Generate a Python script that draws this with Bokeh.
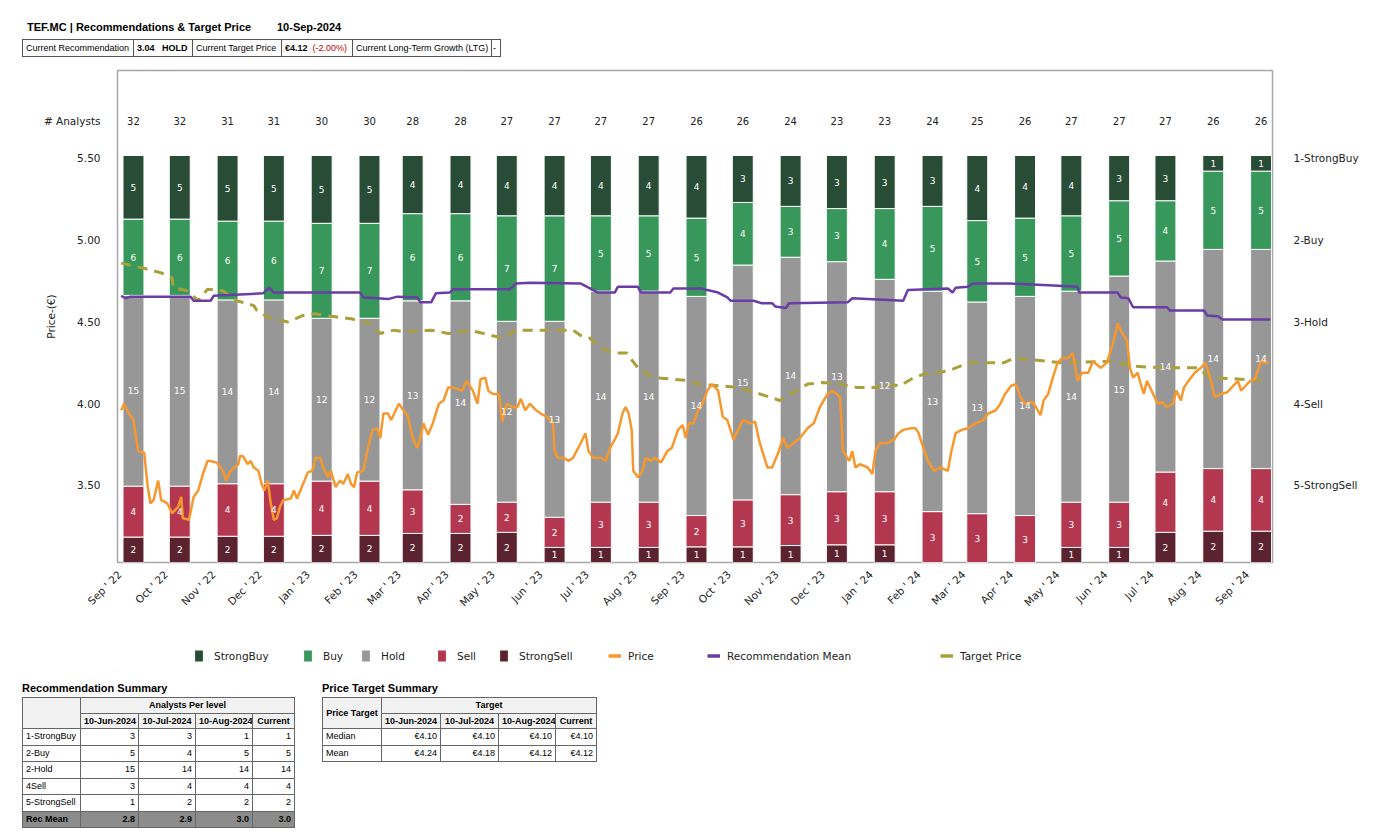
import math
import pandas as pd
from bokeh.plotting import figure
from bokeh.models import (ColumnDataSource, Range1d, LinearAxis, FixedTicker, NumeralTickFormatter,
                          DatetimeTickFormatter, Legend, LegendItem, Div)
from bokeh.layouts import column
from bokeh.core.properties import value
from bokeh.embed import file_html
from bokeh.resources import INLINE

# ------------------------------------------------------------------ data
ticker_name = "TEF.MC"
report_date = "10-Sep-2024"

bar_dates = ["2022-09-10", "2022-10-10", "2022-11-10", "2022-12-10", "2023-01-10", "2023-02-10",
             "2023-03-10", "2023-04-10", "2023-05-10", "2023-06-10", "2023-07-10", "2023-08-10",
             "2023-09-10", "2023-10-10", "2023-11-10", "2023-12-10", "2024-01-10", "2024-02-10",
             "2024-03-10", "2024-04-10", "2024-05-10", "2024-06-10", "2024-07-10", "2024-08-10",
             "2024-09-10"]
strong_buy = [5, 5, 5, 5, 5, 5, 4, 4, 4, 4, 4, 4, 4, 3, 3, 3, 3, 3, 4, 4, 4, 3, 3, 1, 1]
buy = [6, 6, 6, 6, 7, 7, 6, 6, 7, 7, 5, 5, 5, 4, 3, 3, 4, 5, 5, 5, 5, 5, 4, 5, 5]
hold = [15, 15, 14, 14, 12, 12, 13, 14, 12, 13, 14, 14, 14, 15, 14, 13, 12, 13, 13, 14, 14, 15, 14, 14, 14]
sell = [4, 4, 4, 4, 4, 4, 3, 2, 2, 2, 3, 3, 2, 3, 3, 3, 3, 3, 3, 3, 3, 3, 4, 4, 4]
strong_sell = [2, 2, 2, 2, 2, 2, 2, 2, 2, 1, 1, 1, 1, 1, 1, 1, 1, 0, 0, 0, 1, 1, 2, 2, 2]

tick_months = ["2022-09-01", "2022-10-01", "2022-11-01", "2022-12-01", "2023-01-01", "2023-02-01",
               "2023-03-01", "2023-04-01", "2023-05-01", "2023-06-01", "2023-07-01", "2023-08-01",
               "2023-09-01", "2023-10-01", "2023-11-01", "2023-12-01", "2024-01-01", "2024-02-01",
               "2024-03-01", "2024-04-01", "2024-05-01", "2024-06-01", "2024-07-01", "2024-08-01",
               "2024-09-01"]
price_ticks = [3.5, 4.0, 4.5, 5.0, 5.5]
analysts_row = 5.732          # level (price units) of the "# Analysts" row
rec_levels = [1, 2, 3, 4, 5]
rec_labels = ["1-StrongBuy", "2-Buy", "3-Hold", "4-Sell", "5-StrongSell"]

series_start = "2022-09-01"   # day offsets below count from this date
price_day = [1, 3, 6, 9, 12, 16, 18, 20, 22, 25, 27, 31, 34, 38, 40, 41, 45, 48, 51, 54, 57, 59, 63, 67, 69,
             72, 77, 78, 80, 83, 85, 87, 90, 92, 94, 96, 98, 100, 102, 104, 106, 111, 113, 115, 119, 122,
             125, 127, 130, 132, 135, 137, 140, 143, 145, 148, 150, 152, 154, 158, 161, 164, 167, 169, 171,
             174, 176, 178, 181, 184, 187, 190, 193, 195, 197, 200, 203, 207, 210, 213, 216, 222, 225, 229,
             232, 234, 237, 239, 242, 246, 248, 251, 255, 258, 260, 263, 266, 270, 273, 277, 281, 282, 284,
             288, 291, 294, 299, 302, 304, 307, 312, 315, 318, 321, 323, 326, 328, 330, 332, 333, 336, 339,
             341, 344, 347, 351, 355, 358, 362, 365, 367, 369, 372, 375, 377, 381, 384, 388, 391, 394, 398,
             401, 404, 409, 412, 415, 420, 423, 427, 430, 433, 437, 441, 446, 450, 454, 459, 462, 465, 467,
             469, 473, 475, 477, 480, 485, 488, 490, 493, 498, 502, 505, 508, 513, 516, 518, 521, 524, 528,
             532, 537, 539, 542, 546, 550, 555, 560, 563, 568, 571, 574, 578, 581, 584, 587, 592, 594, 597,
             599, 602, 605, 608, 611, 615, 618, 621, 624, 628, 631, 636, 640, 644, 647, 650, 653, 655, 657,
             660, 662, 664, 666, 670, 673, 676, 679, 683, 685, 688, 690, 693, 697, 701, 704, 707, 710, 714,
             718, 721, 725, 727, 730, 733, 736, 740, 742, 745]
price_val = [3.96, 4.00, 3.94, 3.90, 3.71, 3.70, 3.51, 3.39, 3.41, 3.53, 3.41, 3.39, 3.33, 3.37, 3.43, 3.30,
             3.29, 3.43, 3.47, 3.57, 3.65, 3.65, 3.64, 3.59, 3.53, 3.59, 3.63, 3.68, 3.68, 3.63, 3.65, 3.61,
             3.59, 3.51, 3.47, 3.53, 3.39, 3.29, 3.30, 3.37, 3.41, 3.42, 3.47, 3.42, 3.51, 3.58, 3.59, 3.67,
             3.67, 3.61, 3.55, 3.59, 3.49, 3.53, 3.51, 3.57, 3.51, 3.49, 3.58, 3.59, 3.73, 3.84, 3.85, 3.79,
             3.94, 3.94, 3.90, 3.94, 4.00, 3.96, 3.92, 3.79, 3.73, 3.79, 3.88, 3.81, 3.88, 4.00, 4.02, 4.10,
             4.10, 4.08, 4.14, 4.08, 4.00, 4.15, 4.16, 4.08, 4.06, 4.06, 3.89, 4.00, 3.98, 3.98, 4.03, 3.96,
             4.00, 3.96, 3.94, 3.92, 3.88, 3.71, 3.67, 3.67, 3.65, 3.67, 3.76, 3.82, 3.71, 3.67, 3.67, 3.65,
             3.73, 3.78, 3.82, 3.94, 3.98, 3.94, 3.84, 3.59, 3.55, 3.59, 3.67, 3.65, 3.67, 3.64, 3.71, 3.73,
             3.84, 3.87, 3.79, 3.88, 3.88, 3.96, 3.98, 4.08, 4.12, 4.08, 3.92, 3.90, 3.78, 3.84, 3.90, 3.88,
             3.89, 3.76, 3.61, 3.61, 3.70, 3.79, 3.73, 3.76, 3.79, 3.85, 3.88, 3.98, 4.06, 4.08, 4.06, 4.04,
             3.71, 3.65, 3.71, 3.61, 3.63, 3.61, 3.57, 3.71, 3.76, 3.76, 3.78, 3.82, 3.84, 3.85, 3.85, 3.82,
             3.73, 3.65, 3.59, 3.61, 3.59, 3.70, 3.82, 3.84, 3.85, 3.88, 3.90, 3.94, 3.96, 4.00, 4.06, 4.11,
             4.12, 4.04, 4.00, 4.01, 3.98, 3.93, 4.02, 4.06, 4.16, 4.25, 4.28, 4.28, 4.31, 4.14, 4.19, 4.19,
             4.26, 4.22, 4.25, 4.37, 4.49, 4.43, 4.39, 4.22, 4.16, 4.19, 4.12, 4.06, 4.14, 4.06, 4.00, 4.01,
             3.98, 4.00, 4.08, 4.02, 4.10, 4.14, 4.19, 4.22, 4.25, 4.16, 4.04, 4.06, 4.07, 4.10, 4.14, 4.08,
             4.11, 4.14, 4.15, 4.26, 4.25, 4.25]

target_day = [1, 15, 27, 34, 35, 44, 51, 57, 67, 76, 87, 89, 96, 109, 119, 126, 141, 150, 163, 169, 178, 184,
              202, 213, 227, 240, 249, 257, 279, 294, 300, 305, 312, 320, 329, 331, 336, 346, 359, 370, 375,
              401, 415, 428, 435, 446, 456, 467, 478, 491, 495, 506, 513, 521, 537, 545, 550, 573, 580, 602,
              610, 644, 657, 675, 699, 707, 727, 744]
target_val = [4.86, 4.83, 4.80, 4.77, 4.71, 4.69, 4.63, 4.70, 4.69, 4.63, 4.60, 4.57, 4.53, 4.50, 4.54, 4.55,
              4.53, 4.52, 4.49, 4.43, 4.45, 4.44, 4.45, 4.43, 4.45, 4.42, 4.40, 4.45, 4.45, 4.45, 4.41, 4.40,
              4.34, 4.31, 4.31, 4.28, 4.22, 4.16, 4.15, 4.14, 4.12, 4.10, 4.06, 4.02, 4.06, 4.12, 4.13, 4.12,
              4.10, 4.10, 4.12, 4.11, 4.15, 4.18, 4.20, 4.23, 4.25, 4.25, 4.28, 4.26, 4.25, 4.26, 4.23, 4.22,
              4.22, 4.16, 4.15, 4.14]

rec_day = [1, 4, 7, 46, 48, 59, 61, 93, 97, 100, 156, 158, 167, 174, 180, 193, 195, 202, 205, 214, 216, 253,
           257, 266, 299, 305, 310, 321, 323, 336, 338, 357, 359, 368, 377, 381, 388, 394, 396, 411, 416, 423,
           425, 432, 434, 472, 475, 508, 511, 537, 540, 542, 550, 553, 577, 602, 621, 622, 647, 649, 654, 657,
           679, 681, 703, 705, 712, 715, 746]
rec_val = [2.68, 2.71, 2.69, 2.69, 2.74, 2.74, 2.68, 2.65, 2.58, 2.64, 2.64, 2.70, 2.71, 2.72, 2.69, 2.70,
           2.76, 2.76, 2.65, 2.64, 2.60, 2.60, 2.53, 2.52, 2.53, 2.59, 2.64, 2.64, 2.57, 2.57, 2.64, 2.64,
           2.59, 2.59, 2.59, 2.61, 2.64, 2.70, 2.74, 2.74, 2.77, 2.77, 2.81, 2.83, 2.77, 2.76, 2.71, 2.74,
           2.61, 2.59, 2.64, 2.58, 2.57, 2.53, 2.53, 2.55, 2.57, 2.64, 2.64, 2.70, 2.71, 2.82, 2.82, 2.86,
           2.86, 2.92, 2.93, 2.97, 2.97]

# summary tables
summary_dates = ["10-Jun-2024", "10-Jul-2024", "10-Aug-2024", "Current"]
summary_levels = ["1-StrongBuy", "2-Buy", "2-Hold", "4Sell", "5-StrongSell"]
summary_counts = [[3, 3, 1, 1], [5, 4, 5, 5], [15, 14, 14, 14], [3, 4, 4, 4], [1, 2, 2, 2]]
summary_rec_mean = ["2.8", "2.9", "3.0", "3.0"]
pt_rows = ["Median", "Mean"]
pt_values = [["€4.10", "€4.10", "€4.10", "€4.10"], ["€4.24", "€4.18", "€4.12", "€4.12"]]

assert len(price_day) == len(price_val)
assert len(target_day) == len(target_val)
assert len(rec_day) == len(rec_val)

# ------------------------------------------------------------------ styling
C_SB, C_B, C_H, C_S, C_SS = "#284C35", "#38985B", "#979797", "#B3374E", "#5B2330"
C_PRICE, C_REC, C_TGT = "#F7982E", "#6A3DA6", "#A9A03D"
FONT = "DejaVu Sans"
TXT = "#222222"

start = pd.Timestamp(series_start)
bdates = pd.to_datetime(bar_dates)
ms = lambda t: pd.Timestamp(t).value / 1e6

x_start = start - pd.Timedelta(days=1.36)
x_end = start + pd.Timedelta(days=747.4)

p = figure(width=1361, height=578, x_axis_type="datetime",
           x_range=Range1d(x_start, x_end), y_range=Range1d(3.029, 6.038),
           output_backend="svg", toolbar_location=None,
           min_border_left=109, min_border_right=97, min_border_top=8, min_border_bottom=78)
p.margin = (0, 0, 0, 0)
p.extra_y_ranges = {"pct": Range1d(0, 1.2088), "rec": Range1d(5.942, -0.076)}
p.grid.visible = False
p.outline_line_color = "#A6A6A6"
p.outline_line_width = 1.5

# stacked 100% bars
totals = [a + b + c + d + e for a, b, c, d, e in zip(strong_sell, sell, hold, buy, strong_buy)]
levels = [("StrongSell", strong_sell, C_SS), ("Sell", sell, C_S), ("Hold", hold, C_H),
          ("Buy", buy, C_B), ("StrongBuy", strong_buy, C_SB)]
bar_w = pd.Timedelta(days=13.6).total_seconds() * 1000
bottom = [0.0] * len(bar_dates)
label_sources = []
for name, vals, color in levels:
    frac = [v / t for v, t in zip(vals, totals)]
    top = [b + f for b, f in zip(bottom, frac)]
    src = ColumnDataSource(dict(x=bdates, bottom=bottom, top=top,
                                mid=[(b + t) / 2 for b, t in zip(bottom, top)],
                                lab=[str(v) if v > 0 else "" for v in vals]))
    p.vbar(x="x", bottom="bottom", top="top", width=bar_w, source=src, y_range_name="pct",
           fill_color=color, line_color="white", line_width=1)
    label_sources.append(src)
    bottom = top

# lines
tgt_src = ColumnDataSource(dict(x=start + pd.to_timedelta(target_day, unit="D"), y=target_val))
p.line("x", "y", source=tgt_src, line_color=C_TGT, line_width=3, line_dash="10 7")
rec_src = ColumnDataSource(dict(x=start + pd.to_timedelta(rec_day, unit="D"), y=rec_val))
p.line("x", "y", source=rec_src, line_color=C_REC, line_width=2.5, y_range_name="rec")
price_src = ColumnDataSource(dict(x=start + pd.to_timedelta(price_day, unit="D"), y=price_val))
p.line("x", "y", source=price_src, line_color=C_PRICE, line_width=2.5)

# segment labels
for src in label_sources:
    p.text(x="x", y="mid", text="lab", source=src, y_range_name="pct",
           text_align="center", text_baseline="middle", text_color="white",
           text_font=value(FONT), text_font_size="9px")

# analyst totals on top
p.text(x=bdates, y=[analysts_row] * len(bdates), text=[str(t) for t in totals],
       text_align="center", text_baseline="middle", text_color=TXT,
       text_font=value(FONT), text_font_size="10px")

# axes
xa = p.xaxis[0]
xa.ticker = FixedTicker(ticks=[ms(t) for t in tick_months])
fmt = "%b ' %y"
xa.formatter = DatetimeTickFormatter(days=fmt, months=fmt, years=fmt)
xa.major_label_orientation = math.pi / 4
xa.major_label_text_font = FONT
xa.major_label_text_font_size = "10.5px"
xa.major_label_text_color = TXT
xa.axis_line_color = None
xa.major_tick_line_color = None
xa.minor_tick_line_color = None
xa.major_tick_out = 0
xa.minor_tick_out = 0
xa.major_label_standoff = 10

ya = p.yaxis[0]
ya.ticker = FixedTicker(ticks=price_ticks + [analysts_row])
ya.formatter = NumeralTickFormatter(format="0.00")
ya.major_label_overrides = {analysts_row: "# Analysts"}
ya.major_label_text_font = FONT
ya.major_label_text_font_size = "10.5px"
ya.major_label_text_color = TXT
ya.axis_line_color = None
ya.major_tick_line_color = None
ya.minor_tick_line_color = None
ya.major_tick_out = 0
ya.minor_tick_out = 0
ya.major_label_standoff = 17
ya.axis_label = "Price-(€)"
ya.axis_label_text_font = FONT
ya.axis_label_text_font_size = "10.5px"
ya.axis_label_text_font_style = "normal"
ya.axis_label_text_color = TXT
ya.axis_label_standoff = -16

ra = LinearAxis(y_range_name="rec", ticker=FixedTicker(ticks=rec_levels),
                major_label_overrides=dict(zip(rec_levels, rec_labels)))
ra.major_label_text_font = FONT
ra.major_label_text_font_size = "10.5px"
ra.major_label_text_color = TXT
ra.axis_line_color = None
ra.major_tick_line_color = None
ra.minor_tick_line_color = None
ra.major_tick_out = 0
ra.minor_tick_out = 0
ra.major_label_standoff = 21
p.add_layout(ra, "right")

# ------------------------------------------------------------------ legend strip
# (its frame lines up with the main frame; the swatch renderers sit outside its visible range)
lp = figure(width=1361, height=32, x_range=Range1d(0, 1361), y_range=Range1d(0, 32),
            output_backend="svg", toolbar_location=None, x_axis_location=None, y_axis_location=None,
            min_border=0)
lp.margin = (0, 0, 0, 0)
lp.grid.visible = False
lp.outline_line_color = None
legend_items = []
for name, color in [("StrongBuy", C_SB), ("Buy", C_B), ("Hold", C_H), ("Sell", C_S), ("StrongSell", C_SS)]:
    legend_items.append((name, lp.vbar(x=[-500], top=[1], width=1, fill_color=color, line_color="white")))
legend_items.append(("Price", lp.line(x=[-500, -499], y=[1, 1], line_color=C_PRICE, line_width=3.5)))
legend_items.append(("Recommendation Mean", lp.line(x=[-500, -499], y=[1, 1], line_color=C_REC, line_width=3.5)))
legend_items.append(("Target Price", lp.line(x=[-500, -499], y=[1, 1], line_color=C_TGT, line_width=3.5)))
legend_x = [76, 185, 243, 319, 381, 491, 590, 823]
for (lab, rend), vx in zip(legend_items, legend_x):
    is_bar = lab in ("StrongBuy", "Buy", "Hold", "Sell", "StrongSell")
    lg = Legend(items=[LegendItem(label=lab, renderers=[rend])], location=(vx, 9),
                orientation="horizontal", glyph_width=11 if is_bar else 13, glyph_height=15,
                label_standoff=10 if is_bar else 7, label_height=15, padding=0, margin=0, spacing=0,
                border_line_alpha=0, background_fill_alpha=0,
                label_text_font=FONT, label_text_font_size="10.5px", label_text_color=TXT)
    lp.add_layout(lg)

# ------------------------------------------------------------------ header & tables (HTML)
TD = "border:1px solid #555;padding:0 3px;white-space:nowrap;overflow:hidden;"
header_html = (
    "<div style=\"position:relative;width:1361px;height:54px;font-family:'Liberation Sans',Arial,sans-serif;color:#000;\">"
    f"<div style='position:absolute;left:19px;top:12px;font-size:11px;font-weight:bold;white-space:nowrap;'>{ticker_name} | Recommendations &amp; Target Price</div>"
    f"<div style='position:absolute;left:269px;top:12px;font-size:11px;font-weight:bold;white-space:nowrap;'>{report_date}</div>"
    "<table style='position:absolute;left:14px;top:31px;border-collapse:collapse;table-layout:fixed;width:478px;font-size:9px;'>"
    "<colgroup><col style='width:111px'><col style='width:59px'><col style='width:89px'><col style='width:71px'><col style='width:139px'><col style='width:9px'></colgroup>"
    "<tr style='height:17px'>"
    f"<td style='{TD}'>Current Recommendation</td>"
    f"<td style='{TD}font-weight:bold;'>3.04&nbsp;&nbsp;&nbsp;HOLD</td>"
    f"<td style='{TD}'>Current Target Price</td>"
    f"<td style='{TD}'><b>€4.12</b>&nbsp;&nbsp;<span style='color:#C00000;'>(-2.00%)</span></td>"
    f"<td style='{TD}'>Current Long-Term Growth (LTG)</td>"
    f"<td style='{TD}padding:0 1px;'>-</td>"
    "</tr></table></div>"
)
header = Div(text=header_html, width=1361, height=54, margin=(0, 0, 0, 0))

TC = "border:1px solid #666;padding:0 3px;white-space:nowrap;overflow:hidden;"
HC = TC + "background:#F2F2F2;font-weight:bold;text-align:center;"
rec_rows = ""
for lvl, vals in zip(summary_levels, summary_counts):
    rec_rows += f"<tr style='height:16.5px'><td style='{TC}text-align:left;'>{lvl}</td>" + "".join(
        f"<td style='{TC}text-align:right;'>{v}</td>" for v in vals) + "</tr>"
rec_rows += f"<tr style='height:16.5px;background:#8C8C8C;font-weight:bold;'><td style='{TC}text-align:left;'>Rec Mean</td>" + "".join(
    f"<td style='{TC}text-align:right;'>{v}</td>" for v in summary_rec_mean) + "</tr>"
rec_table = (
    "<table style='position:absolute;left:14px;top:25px;border-collapse:collapse;table-layout:fixed;width:272px;font-size:9px;'>"
    "<colgroup><col style='width:58px'><col style='width:58px'><col style='width:57px'><col style='width:57px'><col style='width:42px'></colgroup>"
    f"<tr style='height:16px'><td rowspan='2' style='{HC}'></td><td colspan='4' style='{HC}'>Analysts Per level</td></tr>"
    "<tr style='height:15px'>" + "".join(f"<td style='{HC}'>{d}</td>" for d in summary_dates) + "</tr>"
    + rec_rows + "</table>"
)
pt_rows_html = ""
for nm, vals in zip(pt_rows, pt_values):
    pt_rows_html += f"<tr style='height:16.5px'><td style='{TC}text-align:left;'>{nm}</td>" + "".join(
        f"<td style='{TC}text-align:right;'>{v}</td>" for v in vals) + "</tr>"
pt_table = (
    "<table style='position:absolute;left:314px;top:25px;border-collapse:collapse;table-layout:fixed;width:274px;font-size:9px;'>"
    "<colgroup><col style='width:59px'><col style='width:59px'><col style='width:58px'><col style='width:57px'><col style='width:41px'></colgroup>"
    f"<tr style='height:16px'><td rowspan='2' style='{HC}'>Price Target</td><td colspan='4' style='{HC}'>Target</td></tr>"
    "<tr style='height:15px'>" + "".join(f"<td style='{HC}'>{d}</td>" for d in summary_dates) + "</tr>"
    + pt_rows_html + "</table>"
)
bottom_html = (
    "<div style=\"position:relative;width:1361px;height:159px;font-family:'Liberation Sans',Arial,sans-serif;color:#000;\">"
    "<div style='position:absolute;left:14px;top:9px;font-size:11px;font-weight:bold;white-space:nowrap;'>Recommendation Summary</div>"
    "<div style='position:absolute;left:314px;top:9px;font-size:11px;font-weight:bold;white-space:nowrap;'>Price Target Summary</div>"
    + rec_table + pt_table + "</div>"
)
bottom_div = Div(text=bottom_html, width=1361, height=159, margin=(0, 0, 0, 0))

layout = column(header, p, lp, bottom_div, spacing=0, margin=(8, 8, 0, 8))
open("out.html", "w").write(file_html(layout, INLINE))
